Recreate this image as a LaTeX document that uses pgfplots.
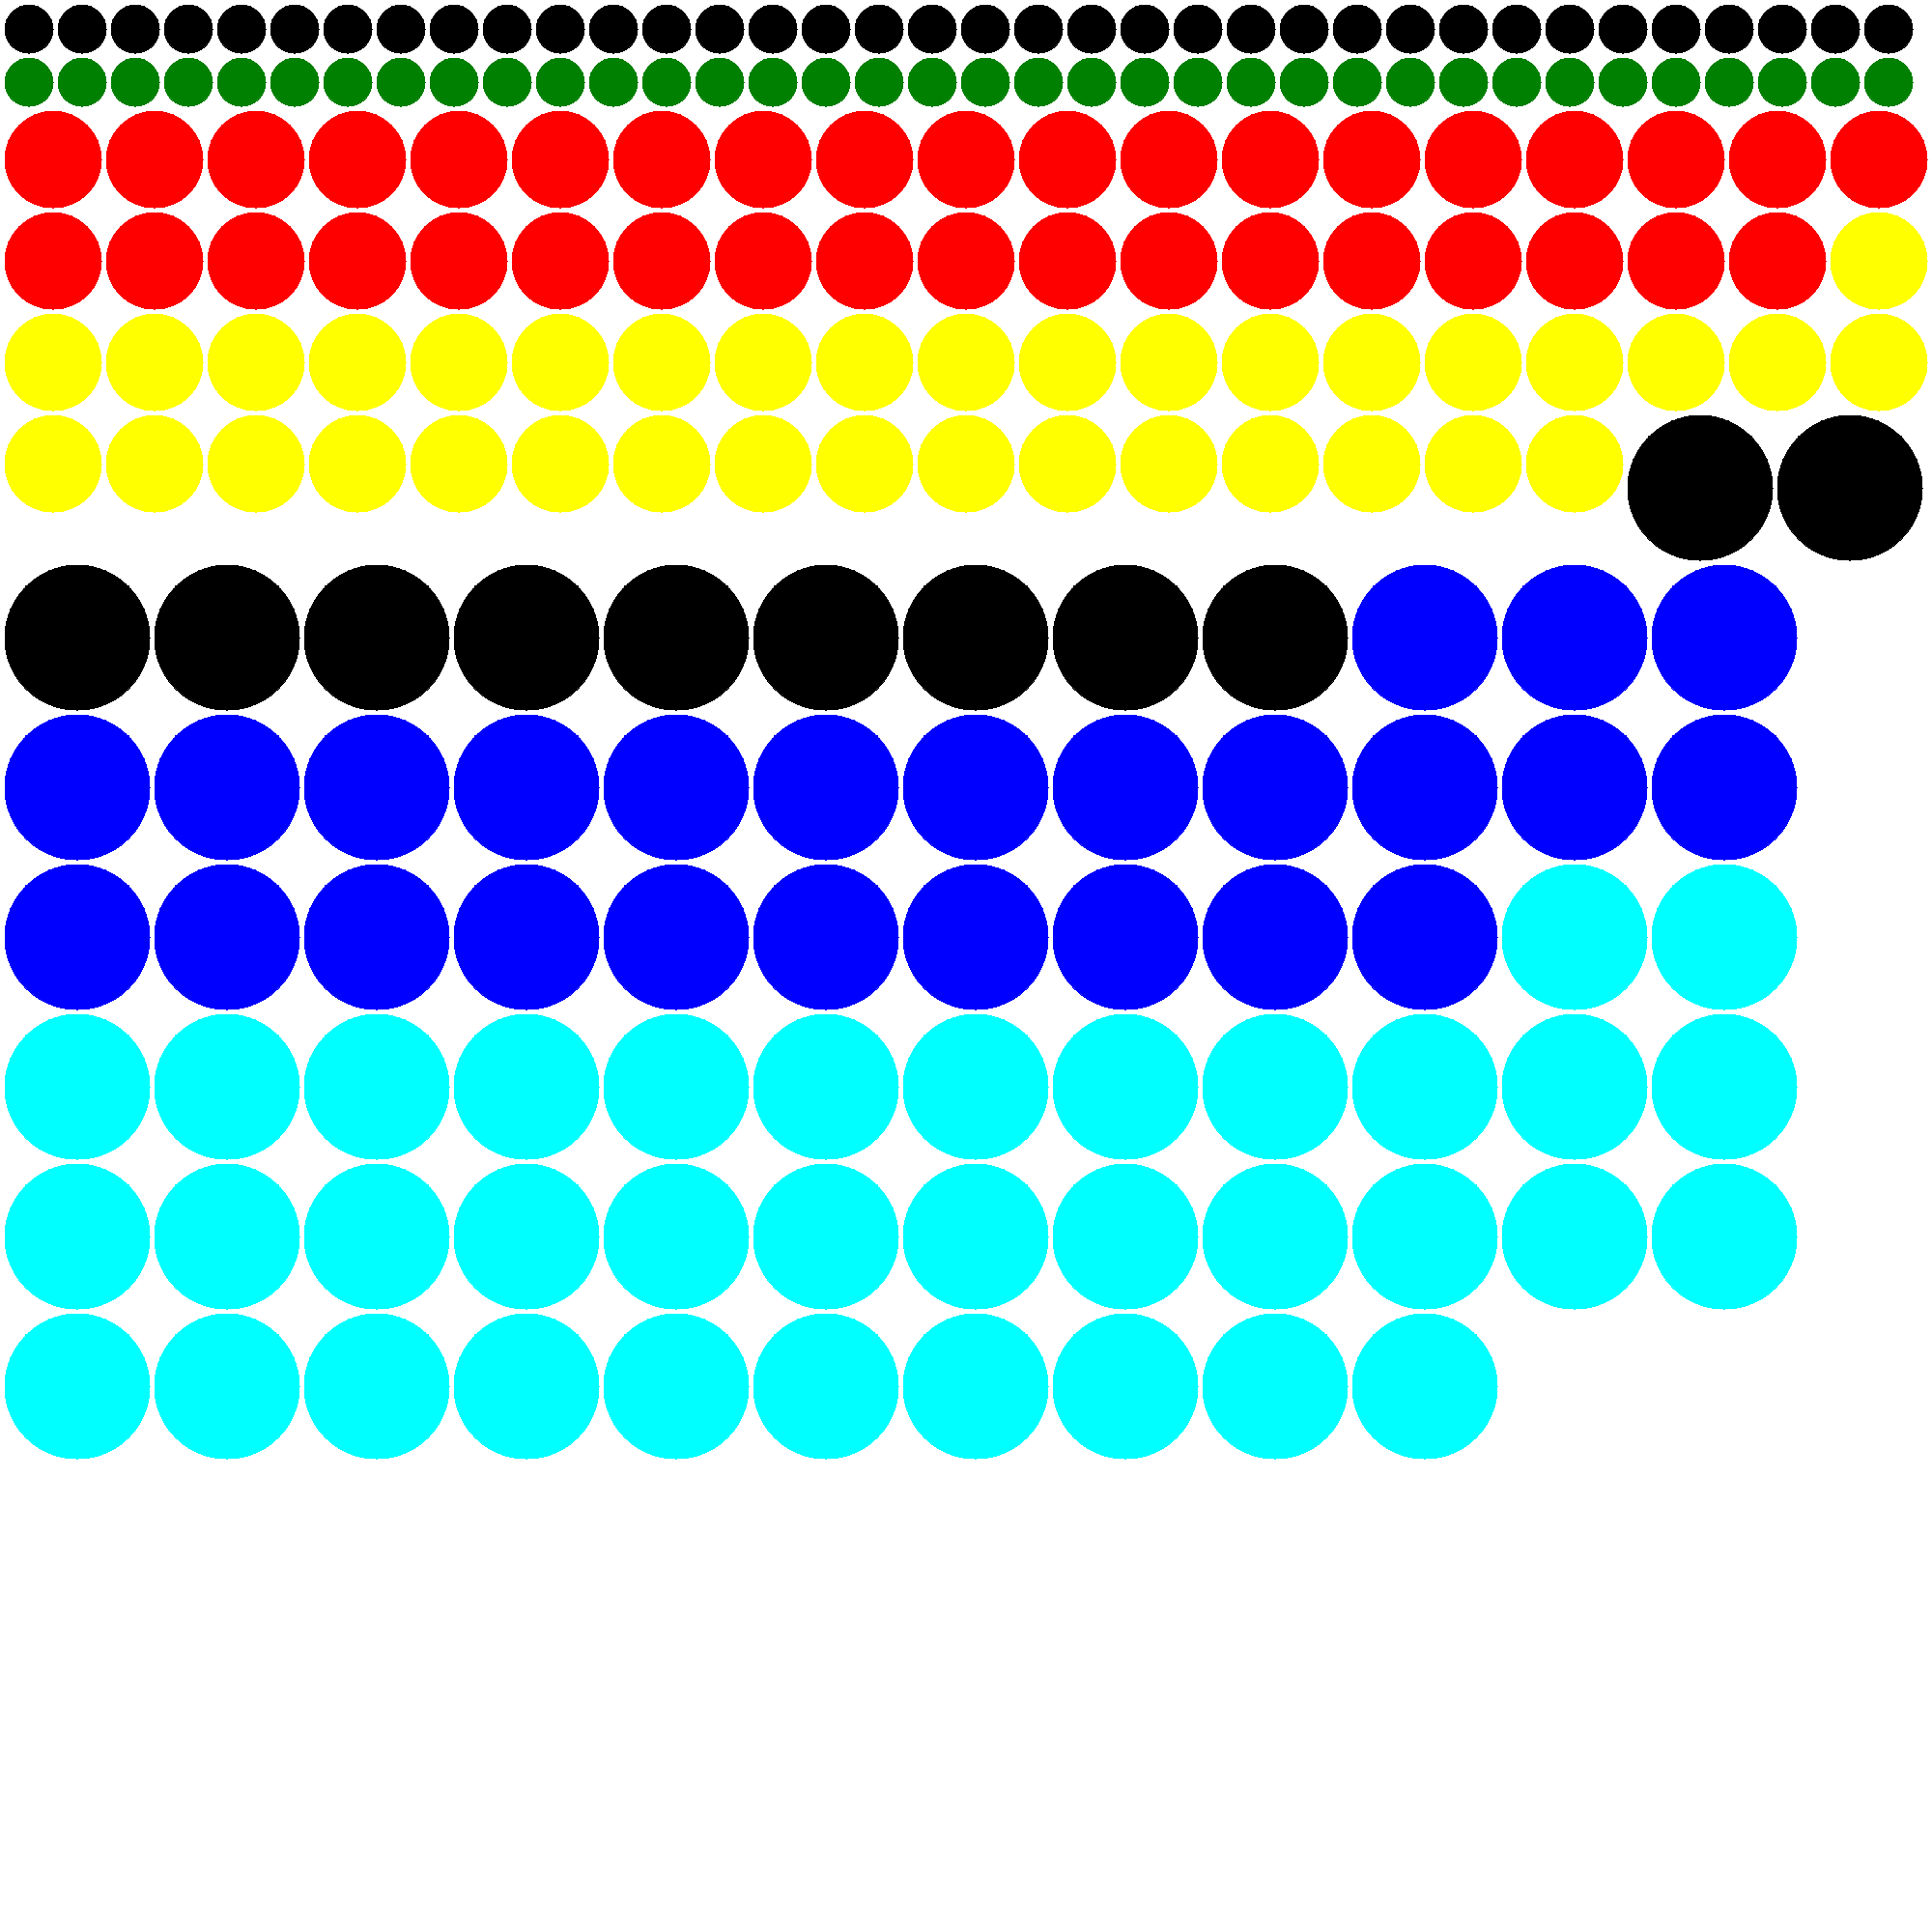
\documentclass[border=0pt]{standalone}
\usepackage{pgfplots}
\pgfplotsset{compat=1.18}
\definecolor{cGreen}{RGB}{0,128,0}
\definecolor{cRed}{RGB}{255,0,0}
\definecolor{cYellow}{RGB}{255,255,0}
\definecolor{cBlue}{RGB}{0,0,255}
\definecolor{cCyan}{RGB}{0,255,255}
\begin{document}
\begin{tikzpicture}
\begin{axis}[
  scale only axis, width=400pt, height=400pt,
  xmin=0, xmax=2000, ymin=0, ymax=2000, y dir=reverse,
  hide axis, clip=false,
  every axis plot/.append style={only marks, mark=*, mark options={line width=0pt}},
]
\path (rel axis cs:0,0) rectangle (rel axis cs:1,1);
% small black
\addplot[color=black, mark size=5pt] coordinates {
(30,30)(85,30)(140,30)(195,30)(250,30)(305,30)(360,30)(415,30)(470,30)(525,30)(580,30)(635,30)(690,30)(745,30)(800,30)(855,30)(910,30)(965,30)(1020,30)(1075,30)(1130,30)(1185,30)(1240,30)(1295,30)(1350,30)(1405,30)(1460,30)(1515,30)(1570,30)(1625,30)(1680,30)(1735,30)(1790,30)(1845,30)(1900,30)(1955,30)};
% green
\addplot[color=cGreen, mark size=5pt] coordinates {
(30,85)(85,85)(140,85)(195,85)(250,85)(305,85)(360,85)(415,85)(470,85)(525,85)(580,85)(635,85)(690,85)(745,85)(800,85)(855,85)(910,85)(965,85)(1020,85)(1075,85)(1130,85)(1185,85)(1240,85)(1295,85)(1350,85)(1405,85)(1460,85)(1515,85)(1570,85)(1625,85)(1680,85)(1735,85)(1790,85)(1845,85)(1900,85)(1955,85)};
% red
\addplot[color=cRed, mark size=10pt] coordinates {
(55,165)(160,165)(265,165)(370,165)(475,165)(580,165)(685,165)(790,165)(895,165)(1000,165)(1105,165)(1210,165)(1315,165)(1420,165)(1525,165)(1630,165)(1735,165)(1840,165)(1945,165)
(55,270)(160,270)(265,270)(370,270)(475,270)(580,270)(685,270)(790,270)(895,270)(1000,270)(1105,270)(1210,270)(1315,270)(1420,270)(1525,270)(1630,270)(1735,270)(1840,270)};
% yellow
\addplot[color=cYellow, mark size=10pt] coordinates {
(1945,270)
(55,375)(160,375)(265,375)(370,375)(475,375)(580,375)(685,375)(790,375)(895,375)(1000,375)(1105,375)(1210,375)(1315,375)(1420,375)(1525,375)(1630,375)(1735,375)(1840,375)(1945,375)
(55,480)(160,480)(265,480)(370,480)(475,480)(580,480)(685,480)(790,480)(895,480)(1000,480)(1105,480)(1210,480)(1315,480)(1420,480)(1525,480)(1630,480)};
% big black
\addplot[color=black, mark size=15pt] coordinates {
(1760,505)(1915,505)
(80,660)(235,660)(390,660)(545,660)(700,660)(855,660)(1010,660)(1165,660)(1320,660)};
% blue
\addplot[color=cBlue, mark size=15pt] coordinates {
(1475,660)(1630,660)(1785,660)
(80,815)(235,815)(390,815)(545,815)(700,815)(855,815)(1010,815)(1165,815)(1320,815)(1475,815)(1630,815)(1785,815)
(80,970)(235,970)(390,970)(545,970)(700,970)(855,970)(1010,970)(1165,970)(1320,970)(1475,970)};
% cyan
\addplot[color=cCyan, mark size=15pt] coordinates {
(1630,970)(1785,970)
(80,1125)(235,1125)(390,1125)(545,1125)(700,1125)(855,1125)(1010,1125)(1165,1125)(1320,1125)(1475,1125)(1630,1125)(1785,1125)
(80,1280)(235,1280)(390,1280)(545,1280)(700,1280)(855,1280)(1010,1280)(1165,1280)(1320,1280)(1475,1280)(1630,1280)(1785,1280)
(80,1435)(235,1435)(390,1435)(545,1435)(700,1435)(855,1435)(1010,1435)(1165,1435)(1320,1435)(1475,1435)};
\end{axis}
\end{tikzpicture}
\end{document}
